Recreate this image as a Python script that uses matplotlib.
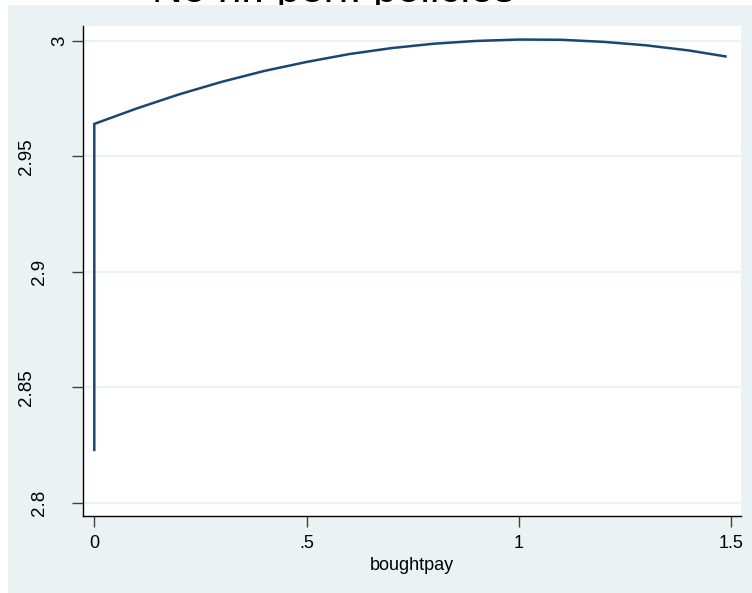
import matplotlib
matplotlib.use("Agg")
import matplotlib.pyplot as plt
from matplotlib.patches import Rectangle

# predicted values against boughtpay
boughtpay = [0, 0, 0.1, 0.2, 0.3, 0.4, 0.5, 0.6, 0.7, 0.8, 0.9, 1.0, 1.1, 1.2, 1.3, 1.4, 1.487]
predicted = [2.823, 2.964, 2.9707, 2.9768, 2.9822, 2.9869, 2.9908, 2.9942, 2.9968,
             2.9987, 2.9999, 3.0005, 3.0004, 2.9995, 2.9980, 2.9958, 2.9932]

yticks = [2.8, 2.85, 2.9, 2.95, 3.0]
ytick_labels = ["2.8", "2.85", "2.9", "2.95", "3"]
xticks = [0, 0.5, 1, 1.5]
xtick_labels = ["0", ".5", "1", "1.5"]

bg = "#eaf2f3"
navy = "#1a476f"

plt.rcParams["font.family"] = ["Liberation Sans", "DejaVu Sans"]

W, H = 752, 593
AX_L, AX_R, AX_T, AX_B = 83, 741, 26, 516
fig = plt.figure(figsize=(W / 100, H / 100), dpi=100, facecolor="white")

# title sits mostly above the page, the graph region covers its descenders
fig.text(152 / W, 1 - 2 / H, "No hr. perf. policies", fontsize=30.5, ha="left",
         va="baseline", color="black", zorder=-5)
fig.patches.append(Rectangle((8 / W, 0), 1, 1 - 4.5 / H, transform=fig.transFigure,
                             facecolor=bg, edgecolor="none", zorder=-4))

ax = fig.add_axes([AX_L / W, (H - AX_B) / H, (AX_R - AX_L) / W, (AX_B - AX_T) / H])
ax.set_facecolor("white")
ax.plot(boughtpay, predicted, color=navy, lw=1.8, solid_joinstyle="miter")

ax.set_xlim(-0.0266, 1.5236)
ax.set_ylim(2.7944, 3.00636)
ax.set_yticks(yticks)
ax.set_yticklabels([])
ax.set_xticks(xticks)
ax.set_xticklabels(xtick_labels)
ax.tick_params(axis="both", length=8, width=1, color="#404040", labelsize=13, pad=6)
ax.yaxis.grid(True, color=bg, lw=1.6)
ax.set_axisbelow(True)
for s in ["top", "right"]:
    ax.spines[s].set_visible(False)
for s in ["left", "bottom"]:
    ax.spines[s].set_color("black")
    ax.spines[s].set_linewidth(1)
ax.set_xlabel("boughtpay", fontsize=13, labelpad=3)


# vertical y labels, centred on the width the label would take lying flat
def flat_width(s):
    return sum(0.278 if c == "." else 0.556 for c in s)


for val, lab in zip(yticks, ytick_labels):
    cx = 73.1 - 24.2 * flat_width(lab)
    ax.text((cx - AX_L) / (AX_R - AX_L), val, lab, transform=ax.get_yaxis_transform(),
            rotation=90, ha="center", va="center", fontsize=13.5, clip_on=False)

fig.savefig("out.png", dpi=100, facecolor=fig.get_facecolor())
